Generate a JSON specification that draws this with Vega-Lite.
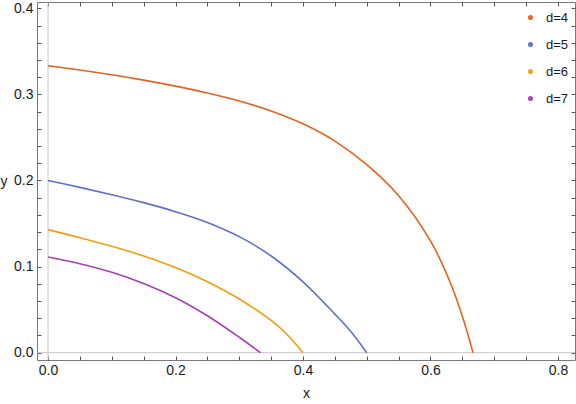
{
  "$schema": "https://vega.github.io/schema/vega-lite/v6.json",
  "width": 538,
  "height": 358,
  "autosize": {"type": "none"},
  "padding": {"left": 37, "top": 2, "right": 1, "bottom": 44},
  "config": {
    "view": {"stroke": "#7a7a7a", "strokeWidth": 1},
    "font": "Liberation Sans",
    "axis": {
      "domain": false,
      "grid": false,
      "ticks": true,
      "tickColor": "#555555",
      "tickWidth": 1,
      "tickSize": 4,
      "labelColor": "#1a1a1a",
      "labelFontSize": 14,
      "titleFontSize": 14,
      "titleFontWeight": "normal",
      "titleColor": "#1a1a1a",
      "labelFlush": false,
      "labelOverlap": false
    },
    "legend": {
      "labelFontSize": 13,
      "labelColor": "#1a1a1a"
    }
  },
  "layer": [
    {
      "data": {"values": [{}]},
      "mark": {"type": "rule", "color": "#c8c8c8", "strokeWidth": 1},
      "encoding": {
        "x": {
          "datum": 0,
          "type": "quantitative",
          "scale": {"domain": [-0.0173, 0.8267], "nice": false, "zero": false},
          "axis": {
            "orient": "top",
            "offset": -4,
            "title": null,
            "labels": false,
            "values": [0, 0.05, 0.1, 0.15, 0.2, 0.25, 0.3, 0.35, 0.4, 0.45, 0.5, 0.55, 0.6, 0.65, 0.7, 0.75, 0.8]
          }
        }
      }
    },
    {
      "data": {"values": [{}]},
      "mark": {"type": "rule", "color": "#c8c8c8", "strokeWidth": 1},
      "encoding": {
        "y": {
          "datum": 0,
          "type": "quantitative",
          "scale": {"domain": [-0.0085, 0.4073], "nice": false, "zero": false},
          "axis": {
            "orient": "right",
            "offset": -4,
            "title": null,
            "labels": false,
            "values": [0, 0.02, 0.04, 0.06, 0.08, 0.1, 0.12, 0.14, 0.16, 0.18, 0.2, 0.22, 0.24, 0.26, 0.28, 0.3, 0.32, 0.34, 0.36, 0.38, 0.4]
          }
        }
      }
    },
    {
      "data": {
        "values": [
          {"d": "d=4", "x": 0, "y": 0.3333},
          {"d": "d=4", "x": 0.05, "y": 0.3283},
          {"d": "d=4", "x": 0.1, "y": 0.3228},
          {"d": "d=4", "x": 0.15, "y": 0.3166},
          {"d": "d=4", "x": 0.2, "y": 0.3096},
          {"d": "d=4", "x": 0.25, "y": 0.3016},
          {"d": "d=4", "x": 0.3, "y": 0.2923},
          {"d": "d=4", "x": 0.35, "y": 0.2808},
          {"d": "d=4", "x": 0.4, "y": 0.2658},
          {"d": "d=4", "x": 0.45, "y": 0.2458},
          {"d": "d=4", "x": 0.5, "y": 0.2183},
          {"d": "d=4", "x": 0.55, "y": 0.1823},
          {"d": "d=4", "x": 0.6, "y": 0.1298},
          {"d": "d=4", "x": 0.63, "y": 0.0833},
          {"d": "d=4", "x": 0.65, "y": 0.0423},
          {"d": "d=4", "x": 0.6667, "y": 0},
          {"d": "d=5", "x": 0, "y": 0.2},
          {"d": "d=5", "x": 0.05, "y": 0.192},
          {"d": "d=5", "x": 0.1, "y": 0.1835},
          {"d": "d=5", "x": 0.15, "y": 0.1743},
          {"d": "d=5", "x": 0.2, "y": 0.1638},
          {"d": "d=5", "x": 0.25, "y": 0.1513},
          {"d": "d=5", "x": 0.3, "y": 0.1348},
          {"d": "d=5", "x": 0.35, "y": 0.1123},
          {"d": "d=5", "x": 0.4, "y": 0.0823},
          {"d": "d=5", "x": 0.45, "y": 0.0448},
          {"d": "d=5", "x": 0.475, "y": 0.0245},
          {"d": "d=5", "x": 0.5, "y": 0},
          {"d": "d=6", "x": 0, "y": 0.1429},
          {"d": "d=6", "x": 0.05, "y": 0.1336},
          {"d": "d=6", "x": 0.1, "y": 0.1236},
          {"d": "d=6", "x": 0.15, "y": 0.1124},
          {"d": "d=6", "x": 0.2, "y": 0.0989},
          {"d": "d=6", "x": 0.25, "y": 0.0824},
          {"d": "d=6", "x": 0.3, "y": 0.0624},
          {"d": "d=6", "x": 0.35, "y": 0.0374},
          {"d": "d=6", "x": 0.375, "y": 0.0211},
          {"d": "d=6", "x": 0.4, "y": 0},
          {"d": "d=7", "x": 0, "y": 0.1111},
          {"d": "d=7", "x": 0.05, "y": 0.1034},
          {"d": "d=7", "x": 0.1, "y": 0.0934},
          {"d": "d=7", "x": 0.15, "y": 0.0804},
          {"d": "d=7", "x": 0.2, "y": 0.0639},
          {"d": "d=7", "x": 0.25, "y": 0.0429},
          {"d": "d=7", "x": 0.3, "y": 0.0179},
          {"d": "d=7", "x": 0.3333, "y": 0}
        ]
      },
      "mark": {"type": "line", "strokeWidth": 1.6, "interpolate": "catmull-rom"},
      "encoding": {
        "x": {
          "field": "x",
          "type": "quantitative",
          "scale": {"domain": [-0.0173, 0.8267], "nice": false, "zero": false},
          "axis": {
            "orient": "bottom",
            "offset": -4,
            "title": "x",
            "titlePadding": 9,
            "labelPadding": 3,
            "values": [0, 0.05, 0.1, 0.15, 0.2, 0.25, 0.3, 0.35, 0.4, 0.45, 0.5, 0.55, 0.6, 0.65, 0.7, 0.75, 0.8],
            "labelExpr": "abs(datum.value*5 - round(datum.value*5)) < 0.001 ? format(datum.value, '.1f') : ''"
          }
        },
        "y": {
          "field": "y",
          "type": "quantitative",
          "scale": {"domain": [-0.0085, 0.4073], "nice": false, "zero": false},
          "axis": {
            "orient": "left",
            "offset": -4,
            "title": "y",
            "titleAngle": 0,
            "titleAlign": "left",
            "titleBaseline": "middle",
            "titleX": -41,
            "titleY": 179,
            "labelPadding": 4,
            "values": [0, 0.02, 0.04, 0.06, 0.08, 0.1, 0.12, 0.14, 0.16, 0.18, 0.2, 0.22, 0.24, 0.26, 0.28, 0.3, 0.32, 0.34, 0.36, 0.38, 0.4],
            "labelExpr": "abs(datum.value*10 - round(datum.value*10)) < 0.001 ? format(datum.value, '.1f') : ''"
          }
        },
        "color": {
          "field": "d",
          "type": "nominal",
          "scale": {"domain": ["d=4", "d=5", "d=6", "d=7"], "range": ["#e5621f", "#5f70cc", "#f49d0c", "#a640b6"]},
          "legend": {
            "orient": "none",
            "legendX": 487,
            "legendY": 9,
            "title": null,
            "padding": 0,
            "symbolType": "circle",
            "symbolSize": 8,
            "symbolStrokeWidth": 2.2,
            "rowPadding": 13,
            "labelOffset": 9
          }
        }
      }
    }
  ],
  "resolve": {"axis": {"x": "independent", "y": "independent"}}
}
